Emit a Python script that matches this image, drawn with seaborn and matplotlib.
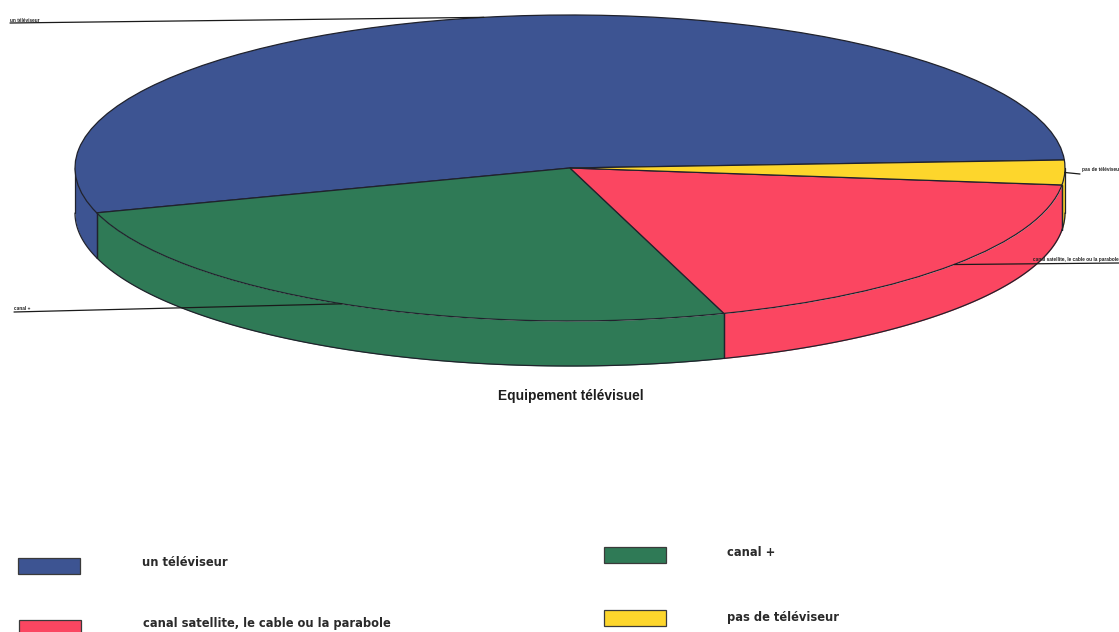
import numpy as np
import seaborn as sns
import matplotlib.pyplot as plt
from matplotlib.patches import Rectangle

categories = ["un téléviseur", "canal +", "canal satellite, le cable ou la parabole", "pas de téléviseur"]
shares = [53.9, 25.3, 18.2, 2.6]
hex_colors = ["#3d5492", "#2f7a56", "#fb4661", "#fdd62c"]
chart_title = "Equipement télévisuel"

W, H = 1119, 632
CX, CY, RX, RY = 570, 168, 495, 153
DEPTH = 45 / RY
START = 3
EDGE = "#20222c"

sns.set_theme(style="white", font="Liberation Sans")
palette = sns.color_palette(hex_colors)

fig = plt.figure(figsize=(W / 100, H / 100), dpi=100)
ax = fig.add_axes([0, 0, 1, 1])

# flat pie, squashed by the axis limits, the rim is added below it
edges = START + np.cumsum([0] + shares) * 3.6
ax.pie(shares, colors=palette, startangle=START, radius=1, counterclock=True,
       wedgeprops=dict(edgecolor=EDGE, linewidth=0.9, zorder=3))
ax.set_aspect("auto")
ax.set_xlim(-CX / RX, (W - CX) / RX)
ax.set_ylim((CY - H) / RY, CY / RY)
ax.axis("off")

for i, color in enumerate(palette):
    a0, a1 = edges[i], edges[i + 1]
    # keep only the part of the rim facing the viewer
    lo, hi = max(a0, 180), min(a1, 360)
    if hi <= lo:
        continue
    t = np.radians(np.linspace(lo, hi, 80))
    ax.fill_between(np.cos(t), np.sin(t) - DEPTH, np.sin(t), color=color, lw=0, zorder=1)
    ax.plot(np.cos(t), np.sin(t) - DEPTH, color=EDGE, lw=0.9, zorder=2)
    ax.plot([np.cos(t[0])] * 2, [np.sin(t[0]), np.sin(t[0]) - DEPTH], color=EDGE, lw=0.9, zorder=2)
    ax.plot([np.cos(t[-1])] * 2, [np.sin(t[-1]), np.sin(t[-1]) - DEPTH], color=EDGE, lw=0.9, zorder=2)

# pixel overlay for the labels, leaders and the hand placed legend
over = fig.add_axes([0, 0, 1, 1], facecolor="none")
over.set_xlim(0, W)
over.set_ylim(H, 0)
over.axis("off")


def rim_point(idx):
    mid = np.radians((edges[idx] + edges[idx + 1]) / 2)
    return CX + RX * np.cos(mid), CY - RY * np.sin(mid)


leaders = [((10, 23), (10, 20)), ((14, 312), (14, 309)),
           ((1119, 263), (1033, 259)), ((1080, 174), (1082, 170))]
for i, (start, label_at) in enumerate(leaders):
    x, y = rim_point(i)
    over.plot([start[0], x], [start[1], y], color="#1a1a1a", lw=0.9, zorder=5)
    over.text(label_at[0], label_at[1], categories[i], fontsize=3.4, fontweight="bold",
              ha="left", va="center", color="#222222", clip_on=True, zorder=6)

over.text(571, 396, chart_title, fontsize=9.9, fontweight="bold", ha="center", va="center", color="#1d1d1d")

# x, box top, text y
boxes = [(18, 558, 563), (604, 547, 553), (19, 620, 623), (604, 610, 617)]
for (x, y, ty), color, name in zip(boxes, palette, categories):
    over.add_patch(Rectangle((x, y), 62, 16, facecolor=color, edgecolor="#3a3a3a", lw=0.9, clip_on=True))
    over.text(x + 124 if x < 100 else x + 123, ty, name, fontsize=8.3, fontweight="bold",
              family="DejaVu Sans", ha="left", va="center", color="#2a2a2a")

fig.savefig("out.png", dpi=100)
